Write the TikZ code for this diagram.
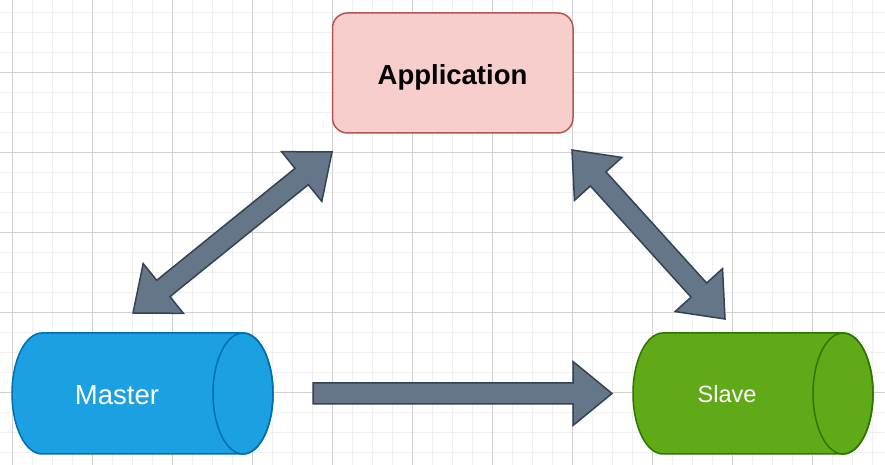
\documentclass[tikz,border=0pt]{standalone}
\usepackage{fontspec}
\setmainfont{Liberation Sans}
\usetikzlibrary{calc}
\definecolor{gridminor}{RGB}{240,240,240}
\definecolor{gridmajor}{RGB}{210,210,210}
\definecolor{appfill}{HTML}{F8CECC}
\definecolor{appdraw}{HTML}{B85450}
\definecolor{masterfill}{HTML}{1BA1E2}
\definecolor{masterdraw}{HTML}{006EAF}
\definecolor{slavefill}{HTML}{60A917}
\definecolor{slavedraw}{HTML}{2D7600}
\definecolor{arrowfill}{HTML}{647687}
\definecolor{arrowdraw}{HTML}{314354}
\tikzset{
  appbox/.style={draw=appdraw, fill=appfill, line width=1.5pt, rounded corners=15pt,
    minimum width=240.5pt, minimum height=120pt, inner sep=0pt},
  apptext/.style={font=\fontsize{27.5}{33}\selectfont\bfseries, text=black, anchor=base, inner sep=0pt},
  dbtext/.style={text=white, anchor=base, inner sep=0pt},
  blockarrow/.style={draw=arrowdraw, fill=arrowfill, line width=1.5pt, line join=miter},
}
\newcommand{\blockdbl}[2]{%
  \coordinate (pa) at ($(#1)!39pt!(#2)$);
  \coordinate (pb) at ($(#2)!39pt!(#1)$);
  \draw[blockarrow] (#1)
    -- ($(pa)!32pt!90:(#2)$)
    -- ($(pa)!10.5pt!90:(#2)$)
    -- ($(pb)!10.5pt!-90:(#1)$)
    -- ($(pb)!32pt!-90:(#1)$)
    -- (#2)
    -- ($(pb)!32pt!90:(#1)$)
    -- ($(pb)!10.5pt!90:(#1)$)
    -- ($(pa)!10.5pt!-90:(#2)$)
    -- ($(pa)!32pt!-90:(#2)$)
    -- cycle;}
\begin{document}
\begin{tikzpicture}[x=1pt,y=1pt]
\useasboundingbox (0,0) rectangle (885,465);
\fill[white] (0,0) rectangle (885,465);
% grid
\foreach \x in {12,32,...,872} \draw[gridminor, line width=1pt] (\x,0) -- (\x,465);
\foreach \y in {12,32,...,452} \draw[gridminor, line width=1pt] (0,\y) -- (885,\y);
\foreach \x in {12,92,...,812} \draw[gridmajor, line width=1pt] (\x,0) -- (\x,465);
\foreach \y in {72,152,...,392} \draw[gridmajor, line width=1pt] (0,\y) -- (885,\y);

% Application
\node[appbox] (appbox) at (452.75,392) {};
\node[apptext] (app) at (452.5,380) {Application};

% Master cylinder
\draw[draw=masterdraw, fill=masterfill, line width=1.5pt]
  (42,132) -- (243,132) arc[start angle=90, end angle=-90, x radius=30, y radius=60.5]
  -- (42,11) arc[start angle=270, end angle=90, x radius=30, y radius=60.5] -- cycle;
\draw[draw=masterdraw, line width=1.5pt] (243,71.5) ellipse[x radius=30, y radius=60.5];
\node[dbtext, font=\fontsize{27.5}{33}\selectfont] (master) at (117,60) {Master};

% Slave cylinder
\draw[draw=slavedraw, fill=slavefill, line width=1.5pt]
  (663,132) -- (843,132) arc[start angle=90, end angle=-90, x radius=30, y radius=60.5]
  -- (663,11) arc[start angle=270, end angle=90, x radius=30, y radius=60.5] -- cycle;
\draw[draw=slavedraw, line width=1.5pt] (843,71.5) ellipse[x radius=30, y radius=60.5];
\node[dbtext, font=\fontsize{23.5}{28}\selectfont] (slave) at (727,62) {Slave};

% arrow end points
\coordinate (mtip) at (133,152);
\coordinate (atipl) at (332,313);
\coordinate (atipr) at (572,315);
\coordinate (stip) at (725,146);
\coordinate (htail) at (313,71.5);
\coordinate (hhead) at (612,71.5);

\blockdbl{mtip}{atipl}
\blockdbl{atipr}{stip}

% horizontal arrow Master -> Slave
\draw[blockarrow] ($(htail)+(0,10.5)$) -- ($(hhead)+(-39,10.5)$) -- ($(hhead)+(-39,32)$)
  -- (hhead) -- ($(hhead)+(-39,-32)$) -- ($(hhead)+(-39,-10.5)$) -- ($(htail)+(0,-10.5)$) -- cycle;
\end{tikzpicture}
\end{document}
